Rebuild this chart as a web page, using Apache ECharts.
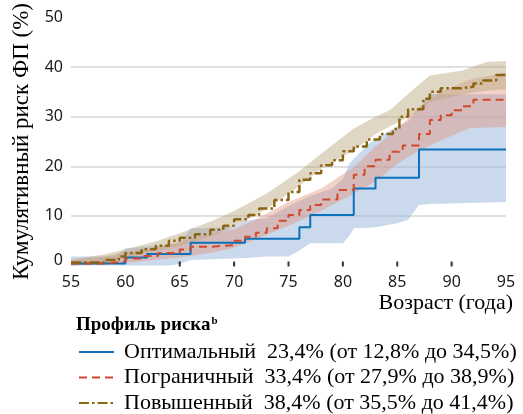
<!DOCTYPE html>
<html>
<head>
<meta charset="utf-8">
<script src="https://cdn.jsdelivr.net/npm/echarts@6/dist/echarts.min.js"></script>
<style>
html,body{margin:0;padding:0;background:#fff;}
#chart{width:523px;height:414px;}
</style>
</head>
<body>
<div id="chart"></div>
<script>
'use strict';

// легенда
var riskNames=['Оптимальный','Пограничный','Повышенный'];
var riskPct=['23,4%','33,4%','38,4%'];
var riskLow=['12,8%','27,9%','35,5%'];
var riskHigh=['34,5%','38,9%','41,4%'];

// ступенчатые кривые (значение действует от возраста и дальше)
var blueAge=[55,60,62,66,71,76,77,81,83,87,95];
var blueVal=[0.4,1.6,2.3,4.6,5.4,7.7,10.2,15.5,17.7,23.4,23.4];

var redAge=[55,58,60,61.5,63,65,66,68,70,71,72,73,74,75,76,77,78,79.5,81,82,83,84.3,85.5,87,88,89,90,91,92,95];
var redVal=[0.4,0.8,1.4,1.9,2.5,3.2,3.8,4.1,5.0,5.8,6.6,7.5,9.0,10.2,11.2,12.2,13.3,15.2,18.3,20.0,21.3,22.9,24.2,26.5,29.3,30.3,31.3,32.1,33.4,33.4];

var goldAge=[55,58,59.4,60,61.5,62.8,64,65,66.4,67.8,69,70,71.3,72.3,73.7,75,76,77,78,79,80,81,82.2,83.4,84.6,85.2,86,87.4,88,89,90.8,92,92.9,94.1,95];
var goldVal=[0.6,1.1,1.8,2.5,3.3,4.0,5.0,5.6,6.3,7.2,8.0,9.3,10.2,11.5,13.2,14.8,17.3,18.6,20.2,21.2,23.0,24.0,25.4,26.5,27.5,30.0,31.5,33.6,35.0,35.7,36.0,36.7,37.3,38.4,38.4];

// доверительные интервалы
var blueBandAge=[55,59,60,64,65,66,70,71,73,75,76,77,79,80,80.6,81,82.4,83,85,86,87,88,95];
var blueLow=[0,0,0,0,0.3,1.1,1.4,1.5,1.8,1.8,3,4.5,4.5,4.5,6,7.5,7.6,7.7,8.5,9.2,12.2,12.4,12.8];
var blueHigh=[1.8,1.8,3.5,4.2,4.5,7.5,7.7,9.0,9.5,12,13,14,15.5,17.5,20.5,21.5,24.6,25.5,28,29,31.5,34.5,34.5];

var redBandAge=[55,58,60,63,65,68,70,72,75,78,81,83,85,87,89,91.7,95];
var redLow=[0,0.2,0.5,1.2,1.6,2.6,3.6,5.3,8,11,14.5,17,20.5,23.2,25.2,27.7,27.9];
var redHigh=[1,1.8,2.6,3.8,4.8,6.5,7.3,9.3,12.8,15.5,19.8,24,27.5,32,35,37.5,38.9];

var goldBandAge=[55,58,60,63,65,68,70,73,76,78,81,83,84.3,87,88,91,93.2,95];
var goldLow=[0,0.5,1.5,3,4,6,7.8,11.4,16,19.5,23.2,26.5,28,31,33,34.5,35.2,35.5];
var goldHigh=[1.2,2.2,3.2,5,6.5,9,11,14.5,19,22.5,27.6,30,31.3,36.5,38.3,39.3,41,41.2];

var xTicks=[55,60,65,70,75,80,85,90,95];
var xTickMarks=[65,70,75,80,85,90];
var yTicks=[0,10,20,30,40,50];

var SERIF="'Liberation Serif','Times New Roman',serif";
var SANS="'Noto Sans','Open Sans',sans-serif";
var COLORS=['#0b71b8','#d0492c','#8b6414'];

function pairs(xs,ys){
    return xs.map(function(x,i){return [x,ys[i]];});
}

// полоса доверительного интервала: один многоугольник через api.coord
function band(xs,lo,hi,fill){
    return {
        type:'custom',silent:true,z:1,
        data:xs.map(function(x,i){return [x,lo[i],hi[i]];}),
        encode:{x:0,y:[1,2]},
        renderItem:function(params,api){
            if(params.dataIndex!==0) return;
            var top=xs.map(function(x,i){return api.coord([x,hi[i]]);});
            var bottom=xs.map(function(x,i){return api.coord([x,lo[i]]);}).reverse();
            return {
                type:'polygon',
                shape:{points:top.concat(bottom)},
                style:{fill:fill,stroke:null}
            };
        }
    };
}

function stepLine(name,xs,ys,color,type,width){
    return {
        type:'line',name:name,data:pairs(xs,ys),step:'end',
        symbol:'none',z:3,
        lineStyle:{color:color,width:width,type:type},
        itemStyle:{color:color}
    };
}

var series=[
    band(blueBandAge,blueLow,blueHigh,'rgba(160,185,220,0.55)'),
    band(redBandAge,redLow,redHigh,'rgba(225,140,115,0.4)'),
    band(goldBandAge,goldLow,goldHigh,'rgba(185,165,125,0.45)'),
    stepLine(riskNames[0],blueAge,blueVal,COLORS[0],'solid',2),
    stepLine(riskNames[1],redAge,redVal,COLORS[1],[8,5],2),
    stepLine(riskNames[2],goldAge,goldVal,COLORS[2],[10,3,2.5,3],2.5),
    // засечки оси X
    {
        type:'scatter',name:'ticks',silent:true,z:4,
        data:xTickMarks.map(function(x){return [x,0];}),
        symbol:'rect',symbolSize:[2,5],symbolOffset:[0,-1.5],
        itemStyle:{color:'#000'}
    }
];

var chart=echarts.init(document.getElementById('chart'),null,{renderer:'canvas'});
chart.setOption({
    animation:false,
    backgroundColor:'#fff',
    grid:{left:71,right:17,top:17,bottom:148.5,containLabel:false},
    title:{
        text:'Профиль риска{sup|b}',left:71,top:311,
        textStyle:{
            fontFamily:SERIF,fontSize:19,fontWeight:'bold',color:'#000',
            rich:{sup:{fontFamily:SERIF,fontSize:11,fontWeight:'bold',color:'#000',verticalAlign:'top',padding:[0,0,8,1]}}
        }
    },
    legend:{
        data:riskNames,orient:'vertical',left:78,top:341,height:90,padding:0,
        itemWidth:35,itemHeight:14,itemGap:3.5,
        itemStyle:{opacity:0},
        textStyle:{fontFamily:SERIF,fontSize:22,color:'#000',lineHeight:22,padding:[0,0,0,5]},
        formatter:function(name){
            var i=riskNames.indexOf(name);
            return name+'  '+riskPct[i]+' (от '+riskLow[i]+' до '+riskHigh[i]+')';
        }
    },
    xAxis:{
        type:'value',min:xTicks[0],max:xTicks[xTicks.length-1],interval:5,
        name:'Возраст (года)',nameLocation:'end',nameGap:7,
        nameTextStyle:{fontFamily:SERIF,fontSize:22,color:'#000',align:'right',verticalAlign:'top',padding:[27,0,0,0]},
        axisLine:{show:false},
        axisTick:{show:false},
        axisLabel:{fontFamily:SANS,fontSize:16,color:'#1a1a1a',margin:9},
        splitLine:{show:false}
    },
    yAxis:{
        type:'value',min:yTicks[0],max:yTicks[yTicks.length-1],interval:10,
        name:'Кумулятивный риск ФП (%)',nameLocation:'middle',nameRotate:90,nameGap:37,
        nameTextStyle:{fontFamily:SERIF,fontSize:23,color:'#000'},
        axisLine:{show:false},axisTick:{show:false},
        axisLabel:{
            fontFamily:SANS,fontSize:16,color:'#1a1a1a',margin:8,
            formatter:function(v){return v===0 ? '{z|0}' : String(v);},
            rich:{z:{fontFamily:SANS,fontSize:16,color:'#1a1a1a',padding:[0,0,10,0]}}
        },
        splitLine:{show:true,showMinLine:false,showMaxLine:false,lineStyle:{color:'#d6d6d6',width:1.5}}
    },
    series:series
});
</script>
</body>
</html>
